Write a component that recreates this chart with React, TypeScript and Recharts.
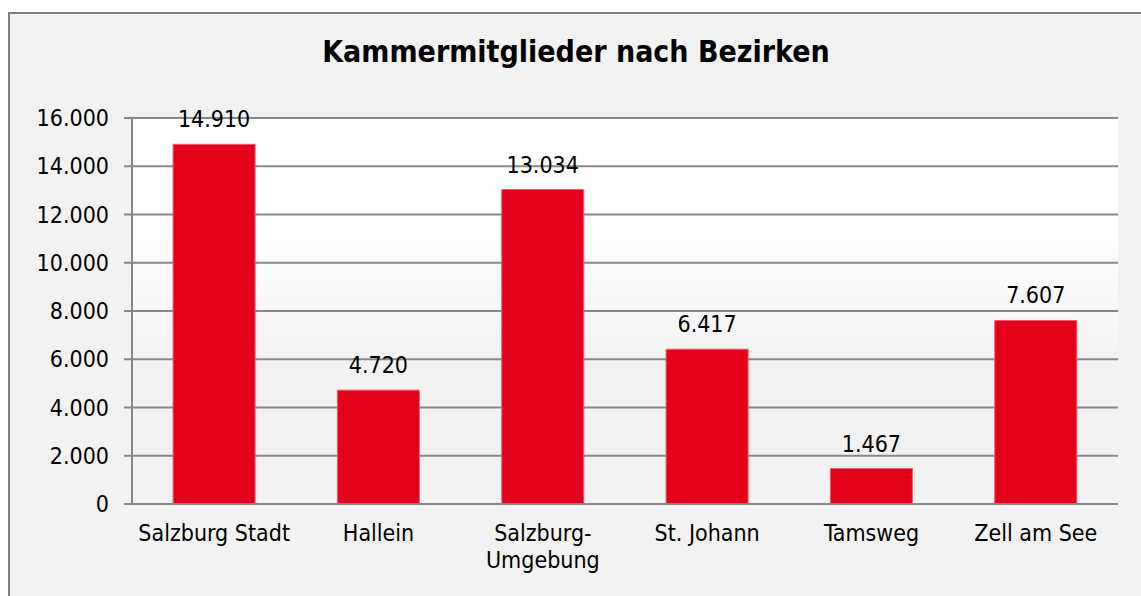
import { BarChart, Bar, XAxis, YAxis, CartesianGrid, LabelList } from "recharts";

// Kammermitglieder nach Bezirken – Säulendiagramm

const bezirke = [
  "Salzburg Stadt",
  "Hallein",
  "Salzburg-Umgebung",
  "St. Johann",
  "Tamsweg",
  "Zell am See",
];
const mitglieder = [14910, 4720, 13034, 6417, 1467, 7607];
const yTicks = [0, 2000, 4000, 6000, 8000, 10000, 12000, 14000, 16000];
const edgeTicks = [0, 1, 2, 3, 4, 5, 6];

const data = bezirke.map((name, i) => ({ name, value: mitglieder[i] }));

const FONT = "'DejaVu Sans Condensed', 'DejaVu Sans', sans-serif";
const fmt = (v: number) => String(v).replace(/\B(?=(\d{3})+(?!\d))/g, ".");

// Kategorie-Beschriftung, nach Bindestrich umbrechen
function CategoryTick({ x, y, payload }: { x?: number; y?: number; payload?: { value: string } }) {
  const label = payload?.value ?? "";
  const lines = label.includes("-") ? [label.split("-")[0] + "-", label.split("-")[1]] : [label];
  return (
    <text
      x={x}
      y={(y ?? 0) + 37}
      textAnchor="middle"
      fill="#000"
      fontSize={23}
      fontFamily={FONT}
    >
      {lines.map((l, i) => (
        <tspan key={i} x={x} dy={i === 0 ? 0 : 27}>
          {l}
        </tspan>
      ))}
    </text>
  );
}

export default function App() {
  return (
    <div
      style={{
        position: "absolute",
        left: 0,
        top: 0,
        width: 1141,
        height: 596,
        overflow: "hidden",
        background: "#fff",
        fontFamily: FONT,
      }}
    >
      <div
        style={{
          position: "absolute",
          left: 8,
          top: 12,
          width: 1160,
          height: 620,
          borderLeft: "2px solid #7f7f7f",
          borderTop: "2px solid #7f7f7f",
          background: "#f2f2f2",
        }}
      />
      <svg width={0} height={0} style={{ position: "absolute" }}>
        <defs>
          <linearGradient id="plotBg" x1="0" y1="0" x2="0" y2="1">
            <stop offset="0" stopColor="#ffffff" />
            <stop offset="0.3" stopColor="#ffffff" />
            <stop offset="0.65" stopColor="#f2f2f2" />
            <stop offset="1" stopColor="#f2f2f2" />
          </linearGradient>
        </defs>
      </svg>
      <div style={{ position: "absolute", left: 0, top: 0 }}>
        <BarChart
          width={1141}
          height={596}
          data={data}
          margin={{ top: 118, right: 23, bottom: 0, left: 0 }}
          barCategoryGap="25%"
        >
          <CartesianGrid
            vertical={false}
            stroke="#878787"
            strokeWidth={2}
            fill="url(#plotBg)"
            fillOpacity={1}
          />
          <XAxis
            xAxisId="edges"
            type="number"
            domain={[0, 6]}
            ticks={edgeTicks}
            allowDataOverflow
            height={0}
            tick={false}
            tickSize={8}
            tickLine={{ stroke: "#878787", strokeWidth: 2 }}
            axisLine={false}
          />
          <XAxis
            dataKey="name"
            height={92}
            interval={0}
            tickLine={false}
            tickSize={0}
            tickMargin={0}
            axisLine={{ stroke: "#878787", strokeWidth: 2 }}
            tick={<CategoryTick />}
          />
          <YAxis
            width={132}
            domain={[0, 16000]}
            ticks={yTicks}
            tickFormatter={fmt}
            tickSize={8}
            tickMargin={15}
            tick={{ fill: "#000", fontSize: 23, fontFamily: FONT }}
            tickLine={{ stroke: "#878787", strokeWidth: 2 }}
            axisLine={{ stroke: "#878787", strokeWidth: 2 }}
          />
          <YAxis
            yAxisId="r"
            orientation="right"
            width={0}
            tick={false}
            tickLine={false}
            axisLine={{ stroke: "#a6a6a6", strokeWidth: 2 }}
          />
          <Bar
            dataKey="value"
            fill="#e2001a"
            stroke="#f05a6a"
            strokeWidth={1}
            isAnimationActive={false}
          >
            <LabelList
              dataKey="value"
              position="top"
              offset={17}
              formatter={(v: number) => fmt(v)}
              fill="#000"
              fontSize={23}
              fontFamily={FONT}
            />
          </Bar>
        </BarChart>
      </div>
      <svg
        width={1141}
        height={596}
        style={{ position: "absolute", left: 0, top: 0, pointerEvents: "none" }}
      >
        <text
          x={576}
          y={62}
          textAnchor="middle"
          fontSize={30}
          fontWeight="bold"
          fontFamily={FONT}
          fill="#000"
        >
          Kammermitglieder nach Bezirken
        </text>
      </svg>
    </div>
  );
}
